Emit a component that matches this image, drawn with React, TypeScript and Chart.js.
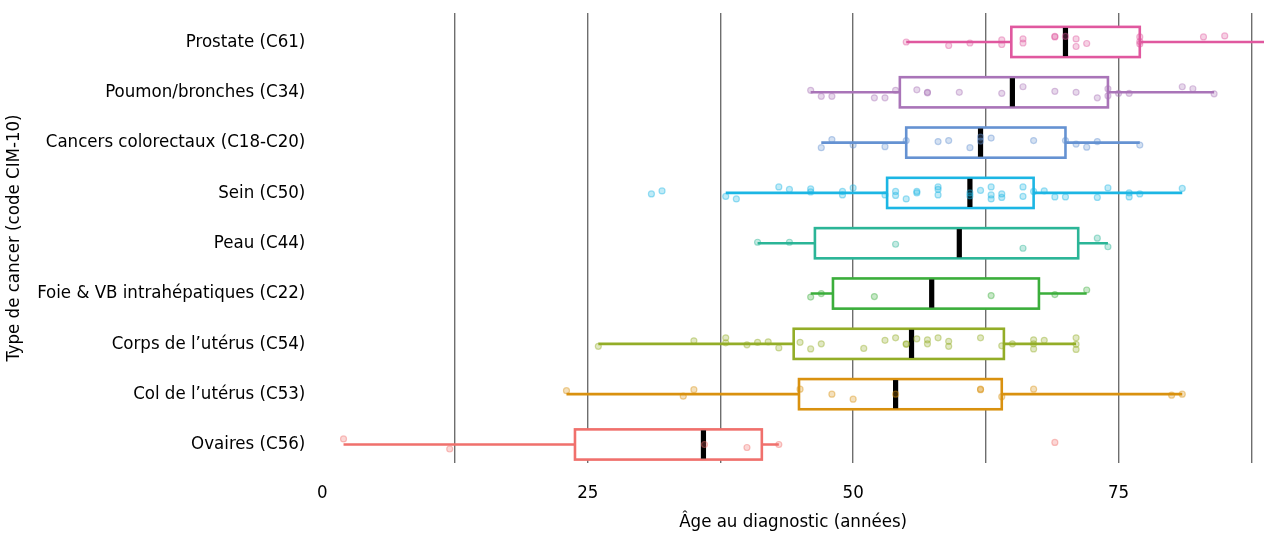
import React, { useEffect, useRef } from "react";
import { Chart, registerables } from "chart.js";

Chart.register(...registerables);

const categories = [
  "Prostate (C61)",
  "Poumon/bronches (C34)",
  "Cancers colorectaux (C18-C20)",
  "Sein (C50)",
  "Peau (C44)",
  "Foie & VB intrahépatiques (C22)",
  "Corps de l’utérus (C54)",
  "Col de l’utérus (C53)",
  "Ovaires (C56)",
];

const colors = [
  "#E0589F",
  "#A974B8",
  "#6592D2",
  "#1CB6E4",
  "#2BB597",
  "#3BAE3B",
  "#93AD27",
  "#D9910F",
  "#F0706C",
];

const whiskerLow = [55, 46, 47, 38, 41, 46, 26, 23, 2];
const q1 = [64.9, 54.4, 55, 53.2, 46.4, 48.1, 44.4, 44.9, 23.8];
const medians = [70, 65, 62, 61, 60, 57.4, 55.5, 54, 35.9];
const q3 = [77, 74, 70, 67, 71.2, 67.5, 64.2, 64, 41.4];
const whiskerHigh = [92, 84, 77, 81, 74, 72, 71, 81, 43];

const pointValues = [
  [55, 59, 61, 64, 64, 66, 66, 69, 69, 70, 71, 71, 72, 77, 77, 77, 83, 85, 92],
  [46, 47, 48, 52, 53, 54, 56, 57, 57, 60, 64, 66, 69, 71, 73, 74, 74, 75, 76, 81, 82, 84],
  [47, 48, 50, 53, 55, 58, 59, 61, 62, 62, 63, 67, 70, 71, 72, 73, 77],
  [31, 32, 38, 39, 43, 44, 46, 46, 49, 49, 50, 53, 54, 54, 55, 56, 56, 58, 58, 58, 61, 61, 62, 63, 63, 63, 64, 64, 66, 66, 67, 68, 69, 70, 73, 74, 76, 76, 77, 81],
  [41, 44, 54, 66, 73, 74],
  [46, 47, 52, 63, 69, 72],
  [26, 35, 38, 38, 40, 41, 42, 43, 45, 46, 47, 51, 53, 54, 55, 55, 56, 57, 57, 58, 59, 59, 62, 64, 65, 67, 67, 67, 68, 71, 71, 71],
  [23, 34, 35, 45, 48, 50, 54, 62, 62, 64, 67, 80, 81],
  [2, 12, 36, 40, 43, 69],
];

const pointJitter = [
  [0, 0.07, 0.02, -0.04, 0.05, -0.06, 0.02, -0.11, -0.1, -0.11, -0.06, 0.09, 0.03, -0.1, -0.01, 0.04, -0.1, -0.12, 0],
  [-0.04, 0.08, 0.08, 0.11, 0.11, -0.04, -0.05, 0, 0.01, 0, 0.02, -0.11, -0.02, 0, 0.11, -0.07, 0.07, 0.02, 0.02, -0.11, -0.07, 0.03],
  [0.1, -0.06, 0.05, 0.08, -0.04, -0.02, -0.04, 0.1, -0.11, -0.03, -0.09, -0.04, -0.04, 0.03, 0.09, -0.02, 0.05],
  [0.02, -0.04, 0.07, 0.12, -0.12, -0.07, -0.08, -0.02, -0.03, 0.04, -0.1, 0.04, -0.03, 0.05, 0.12, -0.03, 0, -0.12, -0.07, 0.04, 0, 0.06, -0.05, -0.12, 0.04, 0.12, 0.02, 0.09, -0.12, 0.07, -0.03, -0.04, 0.08, 0.08, 0.09, -0.1, 0, 0.08, 0.02, -0.09],
  [-0.02, -0.02, 0.02, 0.1, -0.1, 0.07],
  [0.07, 0, 0.06, 0.04, 0.02, -0.07],
  [0.05, -0.06, -0.12, -0.02, 0.02, -0.03, -0.04, 0.08, -0.03, 0.1, 0, 0.09, -0.07, -0.12, 0, 0.01, -0.1, -0.08, 0, -0.12, -0.05, 0.05, -0.12, 0.04, 0, -0.08, 0, 0.1, -0.07, -0.12, 0.01, 0.11],
  [-0.07, 0.04, -0.09, -0.1, 0, 0.1, 0, -0.1, -0.09, 0.05, -0.1, 0.02, 0],
  [-0.11, 0.09, 0, 0.06, 0, -0.04],
];

const xGridTicks = [0, 12.5, 25, 37.5, 50, 62.5, 75, 87.5];
const xLabelTicks = [0, 25, 50, 75];
const xTitle = "Âge au diagnostic (années)";
const yTitle = "Type de cancer (code CIM-10)";

const FONT = "'Liberation Sans Narrow', 'DejaVu Sans Condensed', 'Roboto', sans-serif";

function hexA(hex: string, a: number) {
  const r = parseInt(hex.slice(1, 3), 16);
  const g = parseInt(hex.slice(3, 5), 16);
  const b = parseInt(hex.slice(5, 7), 16);
  return `rgba(${r},${g},${b},${a})`;
}

const boxPlugin = {
  id: "boxes",
  beforeDatasetsDraw(chart: any) {
    const { ctx, chartArea } = chart;
    const x = chart.scales.x;
    const y = chart.scales.y;
    ctx.save();
    ctx.beginPath();
    ctx.rect(chartArea.left, chartArea.top, chartArea.right - chartArea.left, chartArea.bottom - chartArea.top);
    ctx.clip();
    categories.forEach((_, i) => {
      const yc = y.getPixelForValue(i);
      const yt = y.getPixelForValue(i - 0.3);
      const yb = y.getPixelForValue(i + 0.3);
      const xl = x.getPixelForValue(q1[i]);
      const xr = x.getPixelForValue(q3[i]);
      const xm = x.getPixelForValue(medians[i]);
      const wl = x.getPixelForValue(whiskerLow[i]);
      const wh = x.getPixelForValue(whiskerHigh[i]);
      ctx.strokeStyle = colors[i];
      ctx.lineWidth = 2.6;
      ctx.beginPath();
      ctx.moveTo(wl, yc);
      ctx.lineTo(xl, yc);
      ctx.moveTo(xr, yc);
      ctx.lineTo(wh, yc);
      ctx.stroke();
      ctx.fillStyle = "#ffffff";
      ctx.fillRect(xl, yt, xr - xl, yb - yt);
      ctx.strokeRect(xl, yt, xr - xl, yb - yt);
      ctx.fillStyle = "#000000";
      ctx.fillRect(xm - 2.6, yt + 1, 5.2, yb - yt - 2);
    });
    ctx.restore();
  },
};

export default function App() {
  const ref = useRef<HTMLCanvasElement | null>(null);
  useEffect(() => {
    if (!ref.current) return;
    const datasets = categories.map((c, i) => ({
      label: c,
      data: pointValues[i].map((v, j) => ({ x: v, y: i + pointJitter[i][j] })),
      backgroundColor: hexA(colors[i], 0.28),
      borderColor: hexA(colors[i], 0.42),
      borderWidth: 1.2,
      pointRadius: 3,
      pointHoverRadius: 3,
    }));
    const chart = new Chart(ref.current, {
      type: "scatter",
      data: { datasets },
      plugins: [boxPlugin],
      options: {
        responsive: false,
        animation: false,
        devicePixelRatio: 1,
        layout: { autoPadding: false, padding: { top: 13, left: 0, right: 0, bottom: 0 } },
        plugins: { legend: { display: false }, tooltip: { enabled: false } },
        scales: {
          x: {
            type: "linear",
            min: 0,
            max: 88.7,
            afterBuildTicks: (scale: any) => {
              scale.ticks = xGridTicks.map((v) => ({ value: v }));
            },
            afterFit: (scale: any) => {
              scale.height = 71;
              scale.paddingLeft = 0;
              scale.paddingRight = 0;
            },
            border: { display: false },
            grid: {
              drawTicks: false,
              lineWidth: 1.4,
              color: (ctx: any) => (ctx.tick && ctx.tick.value === 0 ? "rgba(0,0,0,0)" : "#6e6e6e"),
            },
            ticks: {
              autoSkip: false,
              maxRotation: 0,
              padding: 19,
              color: "#000",
              font: { family: FONT, size: 18.5 },
              callback: (v: any) => (xLabelTicks.includes(Number(v)) ? String(v) : ""),
            },
            title: {
              display: true,
              text: xTitle,
              color: "#000",
              font: { family: FONT, size: 18.5 },
              padding: { top: 0, bottom: 1 },
            },
          },
          y: {
            type: "linear",
            reverse: true,
            min: -0.576,
            max: 8.368,
            afterBuildTicks: (scale: any) => {
              scale.ticks = categories.map((_, i) => ({ value: i }));
            },
            afterFit: (scale: any) => {
              scale.width = 322.3;
              scale.paddingTop = 0;
              scale.paddingBottom = 0;
            },
            border: { display: false },
            grid: { display: false, drawTicks: false },
            ticks: {
              autoSkip: false,
              padding: 17,
              color: "#000",
              font: { family: FONT, size: 18.5 },
              callback: (v: any) => categories[Number(v)] ?? "",
            },
            title: {
              display: true,
              text: yTitle,
              color: "#000",
              font: { family: FONT, size: 18.5 },
              padding: { top: 3, bottom: 0 },
            },
          },
        },
      },
    } as any);
    return () => chart.destroy();
  }, []);
  return (
    <div style={{ position: "fixed", left: 0, top: 0, width: 1264, height: 534, background: "#fff" }}>
      <canvas ref={ref} width={1264} height={534} style={{ width: 1264, height: 534, display: "block" }} />
    </div>
  );
}
